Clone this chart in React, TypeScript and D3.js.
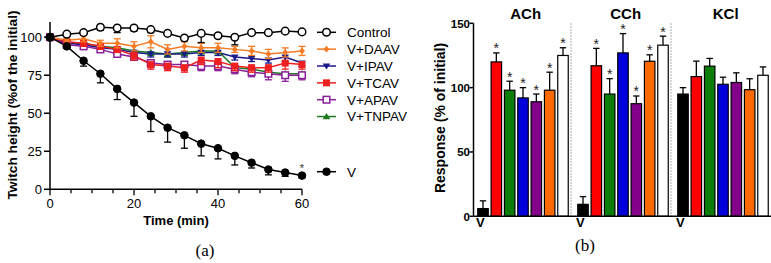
import React from "react";
import * as d3 from "d3";

// ---------- Panel (a) data ----------
const times = [0, 4, 8, 12, 16, 20, 24, 28, 32, 36, 40, 44, 48, 52, 56, 60];
const controlVals = [100, 102, 103, 106.5, 106, 106, 105, 102.5, 99.5, 102.5, 101, 100, 103, 103, 104, 103.5];
const controlErr = [0, 1, 1, 2, 3, 2, 2, 1, 1, 6, 1, 5, 1, 1, 1, 1];
const daavVals = [100, 98, 99, 96, 96, 94, 97, 92, 94, 93, 93, 92, 91, 89, 90, 91];
const daavErr = [0, 1, 2, 2, 3, 3, 4, 3, 3, 3, 3, 2, 3, 3, 3, 3];
const ipavVals = [100, 96, 95, 93, 92, 90, 89, 89, 89, 90, 90, 87, 86, 85, 87, 83];
const ipavErr = [0, 1, 1, 2, 2, 2, 2, 2, 2, 2, 2, 2, 2, 2, 3, 2];
const tcavVals = [100, 97, 96, 94, 92, 88, 82, 81, 80, 85, 84, 81, 80, 80, 83, 82];
const tcavErr = [0, 1, 2, 2, 2, 3, 3, 3, 3, 3, 4, 3, 3, 3, 4, 3];
const apavVals = [100, 95, 94, 92, 89, 87, 83, 82, 82, 81, 81, 79, 77, 76, 75, 75];
const apavErr = [0, 1, 2, 2, 2, 2, 3, 3, 4, 3, 3, 3, 3, 4, 4, 3];
const tnpavVals = [100, 96, 96, 94, 93, 91, 90, 89, 90, 91, 91, 80, 79, 77, 76, 76];
const tnpavErr = [0, 1, 1, 2, 2, 2, 2, 2, 2, 2, 2, 2, 2, 2, 2, 2];
const vVals = [100, 94, 84.5, 76, 66, 57, 48, 40.5, 35.5, 30, 27, 22, 17.5, 13, 11, 9];
const vErr = [0, 1, 3.5, 6, 7, 9, 10, 9.5, 8.5, 8, 7, 6, 3.5, 3.5, 2.5, 1.5];
const yTicksA = [0, 25, 50, 75, 100];
const xTicksA = [0, 20, 40, 60];
const xMinorA = [0, 5, 10, 15, 20, 25, 30, 35, 40, 45, 50, 55, 60];

// ---------- Panel (b) data ----------
const groupNames = ["ACh", "CCh", "KCl"];
const barColors = ["#000000", "#ff0000", "#0b7d0b", "#0000dd", "#84008a", "#ff6a00", "#ffffff"];
const achMeans = [6, 120, 98, 92, 89, 98, 125];
const achErr = [6, 7, 7, 8, 6, 14, 6];
const cchMeans = [9.3, 117, 95, 127, 87.5, 120.5, 133];
const cchErr = [6, 13.5, 12, 15, 6, 5, 7];
const kclMeans = [95, 108.6, 116.7, 102.6, 104, 98.4, 109.6];
const kclErr = [5, 12, 6, 5.5, 7.5, 8.5, 6.5];
const starredGroups = [true, true, false];
const yTicksB = [0, 50, 100, 150];

const FONT = "'Liberation Sans', Arial, Helvetica, sans-serif";

type Marker = "openCircle" | "circle" | "diamond" | "triDown" | "square" | "openSquare" | "triUp";

function MarkerShape({ type, x, y, color }: { type: Marker; x: number; y: number; color: string }) {
  switch (type) {
    case "openCircle":
      return <circle cx={x} cy={y} r={3.8} fill="#fff" stroke={color} strokeWidth={1.5} />;
    case "circle":
      return <circle cx={x} cy={y} r={3.8} fill={color} stroke={color} strokeWidth={1} />;
    case "diamond":
      return <path d={`M${x},${y - 3.3}L${x + 3},${y}L${x},${y + 3.3}L${x - 3},${y}Z`} fill={color} />;
    case "triDown":
      return <path d={`M${x - 3.8},${y - 2.6}L${x + 3.8},${y - 2.6}L${x},${y + 3.6}Z`} fill={color} />;
    case "triUp":
      return <path d={`M${x - 3.8},${y + 2.6}L${x + 3.8},${y + 2.6}L${x},${y - 3.6}Z`} fill={color} />;
    case "square":
      return <rect x={x - 3.5} y={y - 3.5} width={7} height={7} fill={color} />;
    case "openSquare":
      return <rect x={x - 3.3} y={y - 3.3} width={6.6} height={6.6} fill="#fff" stroke={color} strokeWidth={1.5} />;
  }
}

const seriesA = [
  { name: "V+TNPAV", vals: tnpavVals, err: tnpavErr, color: "#1e7a1e", marker: "triUp" as Marker, both: false },
  { name: "V+IPAV", vals: ipavVals, err: ipavErr, color: "#1a1a8a", marker: "triDown" as Marker, both: false },
  { name: "V+APAV", vals: apavVals, err: apavErr, color: "#8a1f9a", marker: "openSquare" as Marker, both: false },
  { name: "V+TCAV", vals: tcavVals, err: tcavErr, color: "#ee2020", marker: "square" as Marker, both: false },
  { name: "V+DAAV", vals: daavVals, err: daavErr, color: "#f57c24", marker: "diamond" as Marker, both: true },
  { name: "Control", vals: controlVals, err: controlErr, color: "#000000", marker: "openCircle" as Marker, both: false },
  { name: "V", vals: vVals, err: vErr, color: "#000000", marker: "circle" as Marker, both: false },
];

const legendOrder = ["Control", "V+DAAV", "V+IPAV", "V+TCAV", "V+APAV", "V+TNPAV"];

export default function App() {
  // Panel (a) scales
  const xA = d3.scaleLinear().domain([0, 60]).range([50, 302]);
  const yA = d3.scaleLinear().domain([0, 110]).range([189.3, 22]);
  const line = d3
    .line<number>()
    .x((_, i) => xA(times[i]))
    .y((d) => yA(d));

  // Panel (b) scales
  const xB = d3.scaleLinear().domain([0, 22.5]).range([475, 775]);
  const yB = d3.scaleLinear().domain([0, 150]).range([216.3, 23.3]);
  const barW = 10.5;
  const groupData = [
    { means: achMeans, err: achErr },
    { means: cchMeans, err: cchErr },
    { means: kclMeans, err: kclErr },
  ];

  return (
    <svg width={771} height={263} style={{ position: "absolute", left: 0, top: 0, background: "#fff" }} fontFamily={FONT}>
      <rect x={0} y={0} width={771} height={263} fill="#fff" />
      {/* ---------------- Panel (a) ---------------- */}
      <g>
        {seriesA.map((s) => (
          <path key={s.name + "l"} d={line(s.vals) || ""} fill="none" stroke={s.color} strokeWidth={1.5} />
        ))}
        {seriesA.map((s) => (
          <g key={s.name + "m"}>
            {s.vals.map((v, i) => {
              const x = xA(times[i]);
              const e = s.err[i];
              if (e <= 0) return null;
              const lo = yA(v - e);
              const hi = s.both ? yA(v + e) : yA(v);
              return (
                <g key={i}>
                  <line x1={x} x2={x} y1={hi} y2={lo} stroke={s.color} strokeWidth={1.3} />
                  <line x1={x - 3.5} x2={x + 3.5} y1={lo} y2={lo} stroke={s.color} strokeWidth={1.3} />
                  {s.both && <line x1={x - 3.5} x2={x + 3.5} y1={hi} y2={hi} stroke={s.color} strokeWidth={1.3} />}
                </g>
              );
            })}
            {s.vals.map((v, i) => (
              <MarkerShape key={i} type={s.marker} x={xA(times[i])} y={yA(v)} color={s.color} />
            ))}
          </g>
        ))}
        <text x={xA(60)} y={yA(vVals[vVals.length - 1]) - 4} textAnchor="middle" fontSize={11} fill="#333">*</text>

        {/* axes */}
        <line x1={xA(0)} x2={xA(0)} y1={yA(0)} y2={yA(110)} stroke="#000" strokeWidth={1.5} />
        <line x1={xA(0)} x2={xA(60)} y1={yA(0)} y2={yA(0)} stroke="#000" strokeWidth={1.5} />
        {yTicksA.map((t) => (
          <g key={t}>
            <line x1={xA(0) - 6} x2={xA(0)} y1={yA(t)} y2={yA(t)} stroke="#000" strokeWidth={1.5} />
            <text x={xA(0) - 8} y={yA(t) + 4.5} textAnchor="end" fontSize={13}>{t}</text>
          </g>
        ))}
        {xMinorA.map((t) => (
          <line key={t} x1={xA(t)} x2={xA(t)} y1={yA(0)} y2={yA(0) + (t % 20 === 0 ? 6 : 4)} stroke="#000" strokeWidth={1.3} />
        ))}
        {xTicksA.map((t) => (
          <text key={t} x={xA(t)} y={208} textAnchor="middle" fontSize={13}>{t}</text>
        ))}
        <text x={176} y={225} textAnchor="middle" fontSize={13} fontWeight="bold">Time (min)</text>
        <text transform="translate(17,105) rotate(-90)" textAnchor="middle" fontSize={13.7} fontWeight="bold">
          Twitch height (%of the initial)
        </text>

        {/* legend */}
        {legendOrder.map((name, i) => {
          const s = seriesA.find((d) => d.name === name)!;
          const y = 32.3 + i * 16.85;
          return (
            <g key={name}>
              <line x1={317} x2={336} y1={y} y2={y} stroke={s.color} strokeWidth={1.5} />
              <MarkerShape type={s.marker} x={326.5} y={y} color={s.color} />
              <text x={347} y={y + 4.8} fontSize={13.5}>{name}</text>
            </g>
          );
        })}
        {(() => {
          const s = seriesA.find((d) => d.name === "V")!;
          const y = 171.7;
          return (
            <g>
              <line x1={317} x2={336} y1={y} y2={y} stroke={s.color} strokeWidth={1.5} />
              <MarkerShape type={s.marker} x={326.5} y={y} color={s.color} />
              <text x={347} y={y + 4.8} fontSize={13.5}>V</text>
            </g>
          );
        })()}
        <text x={205} y={256} textAnchor="middle" fontSize={17} fontFamily="'Liberation Serif', 'Times New Roman', serif">(a)</text>
      </g>

      {/* ---------------- Panel (b) ---------------- */}
      <g>
        {groupData.map((g, gi) => (
          <g key={gi}>
            {g.means.map((m, k) => {
              const cx = xB(gi * 7.5 + k + 0.6);
              const top = yB(m);
              const cap = yB(m + g.err[k]);
              return (
                <g key={k}>
                  <line x1={cx} x2={cx} y1={top} y2={cap} stroke="#000" strokeWidth={1.3} />
                  <line x1={cx - 3.2} x2={cx + 3.2} y1={cap} y2={cap} stroke="#000" strokeWidth={1.3} />
                  <rect x={cx - barW / 2} y={top} width={barW} height={yB(0) - top} fill={barColors[k]} stroke="#000" strokeWidth={1.2} />
                  {starredGroups[gi] && k > 0 && (
                    <text x={cx} y={cap + 0.5} textAnchor="middle" fontSize={14} fill="#222">*</text>
                  )}
                </g>
              );
            })}
            <text x={xB(gi * 7.5 + 0.4)} y={227} textAnchor="middle" fontSize={13} fontWeight="bold">V</text>
            <text x={xB(gi * 7.5 + 3.8)} y={18.5} textAnchor="middle" fontSize={15} fontWeight="bold">{groupNames[gi]}</text>
          </g>
        ))}
        {[7.2, 14.7].map((s) => (
          <line key={s} x1={xB(s)} x2={xB(s)} y1={yB(150)} y2={yB(0)} stroke="#777" strokeWidth={0.8} strokeDasharray="1.5,1.5" />
        ))}
        <line x1={473.5} x2={473.5} y1={yB(0)} y2={yB(150)} stroke="#000" strokeWidth={1.5} />
        <line x1={473.5} x2={771} y1={yB(0)} y2={yB(0)} stroke="#000" strokeWidth={1.5} />
        {yTicksB.map((t) => (
          <g key={t}>
            <line x1={469.5} x2={473.5} y1={yB(t)} y2={yB(t)} stroke="#000" strokeWidth={1.5} />
            <text x={470} y={yB(t) + 4.2} textAnchor="end" fontSize={11.5} fontWeight="bold">{t}</text>
          </g>
        ))}
        <text transform="translate(445,118) rotate(-90)" textAnchor="middle" fontSize={14} fontWeight="bold">
          Response (% of initial)
        </text>
        <text x={585} y={251} textAnchor="middle" fontSize={17} fontFamily="'Liberation Serif', 'Times New Roman', serif">(b)</text>
      </g>
    </svg>
  );
}
